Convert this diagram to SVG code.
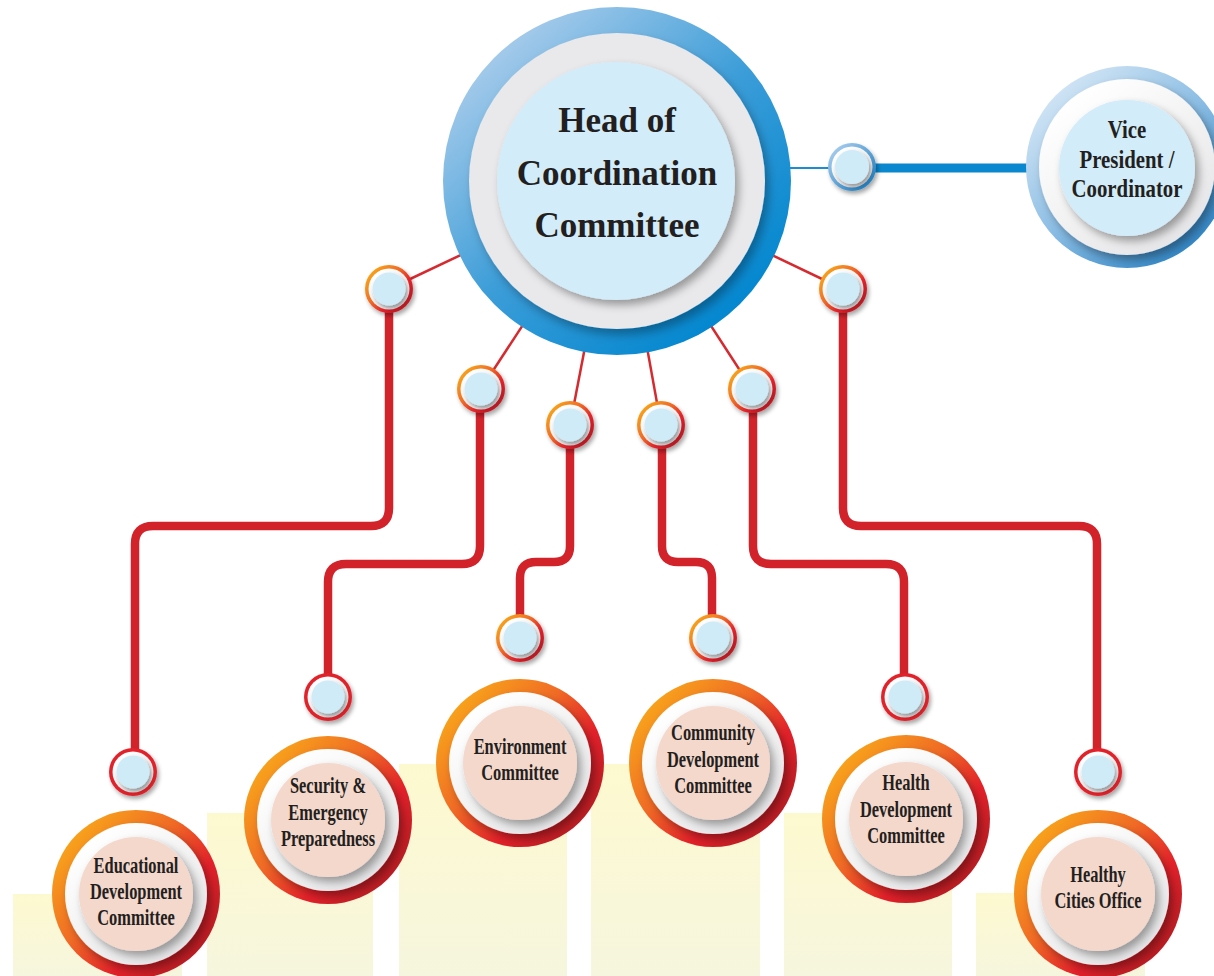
<svg xmlns="http://www.w3.org/2000/svg" xmlns:xlink="http://www.w3.org/1999/xlink" width="1214" height="976" viewBox="0 0 1214 976">
<defs>
<linearGradient id="gBlue" x1="0.15" y1="0.1" x2="0.85" y2="0.9">
<stop offset="0" stop-color="#a9cceb"/><stop offset="0.5" stop-color="#3c9dd8"/><stop offset="1" stop-color="#0086cf"/>
</linearGradient>
<linearGradient id="gVp" x1="0.15" y1="0.1" x2="0.85" y2="0.9">
<stop offset="0" stop-color="#d2e5f5"/><stop offset="0.5" stop-color="#8bbde4"/><stop offset="1" stop-color="#2f86c6"/>
</linearGradient>
<linearGradient id="gOrange" x1="0.1" y1="0.15" x2="0.9" y2="0.85">
<stop offset="0" stop-color="#f8a51b"/><stop offset="0.4" stop-color="#f06a25"/><stop offset="0.7" stop-color="#e3202a"/><stop offset="1" stop-color="#b81d23"/>
</linearGradient>
<linearGradient id="gDotBlue" x1="0.1" y1="0.1" x2="0.9" y2="0.9">
<stop offset="0" stop-color="#a8cdee"/><stop offset="1" stop-color="#1f7fc0"/>
</linearGradient>
<linearGradient id="gYellow" x1="0" y1="0" x2="0" y2="1">
<stop offset="0" stop-color="#fdf9cf"/><stop offset="1" stop-color="#f6f6de"/>
</linearGradient>
<linearGradient id="gWhite" x1="0.2" y1="0.1" x2="0.8" y2="0.9">
<stop offset="0" stop-color="#ffffff"/><stop offset="1" stop-color="#e6e6e8"/>
</linearGradient>
<filter id="sh" x="-30%" y="-30%" width="160%" height="160%">
<feDropShadow dx="4" dy="5" stdDeviation="4" flood-color="#000" flood-opacity="0.35"/>
</filter>
<filter id="shL" x="-30%" y="-30%" width="160%" height="160%">
<feDropShadow dx="4" dy="6" stdDeviation="5" flood-color="#000" flood-opacity="0.3"/>
</filter>
<filter id="shS" x="-40%" y="-40%" width="180%" height="180%">
<feDropShadow dx="2" dy="3" stdDeviation="2" flood-color="#000" flood-opacity="0.35"/>
</filter>
<g id="dotO">
<circle r="24" fill="url(#gOrange)" filter="url(#shS)"/>
<circle r="20.5" fill="url(#gWhite)"/>
<circle r="16.5" fill="#d0ebf8" filter="url(#shS)"/>
</g>
<g id="dotR">
<circle r="24" fill="#e1222a" filter="url(#shS)"/>
<circle r="20.5" fill="url(#gWhite)"/>
<circle r="16.5" fill="#d0ebf8" filter="url(#shS)"/>
</g>
<g id="dotB">
<circle r="24" fill="url(#gDotBlue)" filter="url(#shS)"/>
<circle r="20.5" fill="url(#gWhite)"/>
<circle r="17" fill="#d0ebf8" filter="url(#shS)"/>
</g>
<g id="big">
<circle r="84" fill="url(#gOrange)"/>
<circle r="71" fill="url(#gWhite)" filter="url(#sh)"/>
<circle r="57" fill="#f5d8cc" filter="url(#sh)"/>
</g>
</defs>
<style>
.t{font-family:"Liberation Serif","Times New Roman",serif;font-weight:bold;fill:#231f20;text-anchor:middle}
.tm{font-size:35px}
.tv{font-size:26px}
.tb{font-size:22.5px}
.thin{stroke:#d52a30;stroke-width:2.5;fill:none}
.thick{stroke:#d2232b;stroke-width:8.5;fill:none;stroke-linejoin:round}
</style>
<g id="background">
<rect x="13" y="894" width="169" height="82" fill="url(#gYellow)"/>
<rect x="207" y="813" width="166" height="163" fill="url(#gYellow)"/>
<rect x="399" y="764" width="168" height="212" fill="url(#gYellow)"/>
<rect x="591" y="764" width="169" height="212" fill="url(#gYellow)"/>
<rect x="784" y="813" width="168" height="163" fill="url(#gYellow)"/>
<rect x="976" y="893" width="169" height="83" fill="url(#gYellow)"/>
</g>
<g id="connectors">
<line class="thin" x1="617" y1="181" x2="389" y2="289"/>
<line class="thin" x1="617" y1="181" x2="481" y2="389"/>
<line class="thin" x1="617" y1="181" x2="570" y2="425"/>
<line class="thin" x1="617" y1="181" x2="661" y2="425"/>
<line class="thin" x1="617" y1="181" x2="752" y2="389"/>
<line class="thin" x1="617" y1="181" x2="843" y2="289"/>
<line x1="617" y1="168" x2="852" y2="168" stroke="#1e8dd0" stroke-width="2"/>
<line x1="852" y1="168" x2="1035" y2="168" stroke="#0a88cf" stroke-width="9"/>
<path class="thick" d="M389 289 V508 Q389 526 371 526 H153 Q135 526 135 544 V772"/>
<path class="thick" d="M480 389 V546 Q480 564 462 564 H346 Q328 564 328 582 V697"/>
<path class="thick" d="M570 425 V546 Q570 562 554 562 H536 Q520 562 520 578 V638"/>
<path class="thick" d="M662 425 V546 Q662 562 678 562 H696 Q712 562 712 578 V638"/>
<path class="thick" d="M753 389 V546 Q753 564 771 564 H886 Q904 564 904 582 V697"/>
<path class="thick" d="M843 289 V508 Q843 526 861 526 H1079 Q1097 526 1097 544 V772"/>
<use href="#dotO" x="389" y="289"/>
<use href="#dotO" x="481" y="389"/>
<use href="#dotO" x="570" y="425"/>
<use href="#dotO" x="661" y="425"/>
<use href="#dotO" x="752" y="389"/>
<use href="#dotO" x="843" y="289"/>
<use href="#dotB" x="852" y="167"/>
<use href="#dotR" x="133" y="772"/>
<use href="#dotR" x="328" y="697"/>
<use href="#dotO" x="520" y="638"/>
<use href="#dotO" x="713" y="638"/>
<use href="#dotR" x="905" y="697"/>
<use href="#dotR" x="1098" y="772"/>
</g>
<g id="head">
<circle cx="617" cy="181" r="174" fill="url(#gBlue)"/>
<circle cx="617" cy="181" r="148" fill="#e9e9eb" filter="url(#shL)"/>
<circle cx="616" cy="181" r="119" fill="#d2ecf9" filter="url(#sh)"/>
<text class="t tm" x="617" y="132">Head of</text>
<text class="t tm" x="617" y="185">Coordination</text>
<text class="t tm" x="617" y="237">Committee</text>
</g>
<g id="vice">
<circle cx="1127" cy="167" r="101" fill="url(#gVp)"/>
<circle cx="1127" cy="167" r="88" fill="url(#gWhite)" filter="url(#sh)"/>
<circle cx="1127" cy="168" r="68" fill="#d2ecf9" filter="url(#sh)"/>
<g transform="translate(1127,0) scale(0.8,1)">
<text class="t tv" x="0" y="138">Vice</text>
<text class="t tv" x="0" y="168">President /</text>
<text class="t tv" x="0" y="197">Coordinator</text>
</g>
</g>
<g id="educational">
<use href="#big" x="136" y="894"/>
<g transform="translate(136,0) scale(0.73,1)">
<text class="t tb" x="0" y="873">Educational</text>
<text class="t tb" x="0" y="899">Development</text>
<text class="t tb" x="0" y="925">Committee</text>
</g>
</g>
<g id="security">
<use href="#big" x="328" y="820"/>
<g transform="translate(328,0) scale(0.73,1)">
<text class="t tb" x="0" y="793">Security &amp;</text>
<text class="t tb" x="0" y="820">Emergency</text>
<text class="t tb" x="0" y="846">Preparedness</text>
</g>
</g>
<g id="environment">
<use href="#big" x="520" y="763"/>
<g transform="translate(520,0) scale(0.73,1)">
<text class="t tb" x="0" y="754">Environment</text>
<text class="t tb" x="0" y="780">Committee</text>
</g>
</g>
<g id="community">
<use href="#big" x="713" y="763"/>
<g transform="translate(713,0) scale(0.73,1)">
<text class="t tb" x="0" y="740">Community</text>
<text class="t tb" x="0" y="767">Development</text>
<text class="t tb" x="0" y="793">Committee</text>
</g>
</g>
<g id="health">
<use href="#big" x="906" y="819"/>
<g transform="translate(906,0) scale(0.73,1)">
<text class="t tb" x="0" y="790">Health</text>
<text class="t tb" x="0" y="817">Development</text>
<text class="t tb" x="0" y="843">Committee</text>
</g>
</g>
<g id="healthy-cities">
<use href="#big" x="1098" y="894"/>
<g transform="translate(1098,0) scale(0.73,1)">
<text class="t tb" x="0" y="882">Healthy</text>
<text class="t tb" x="0" y="908">Cities Office</text>
</g>
</g>
</svg>
